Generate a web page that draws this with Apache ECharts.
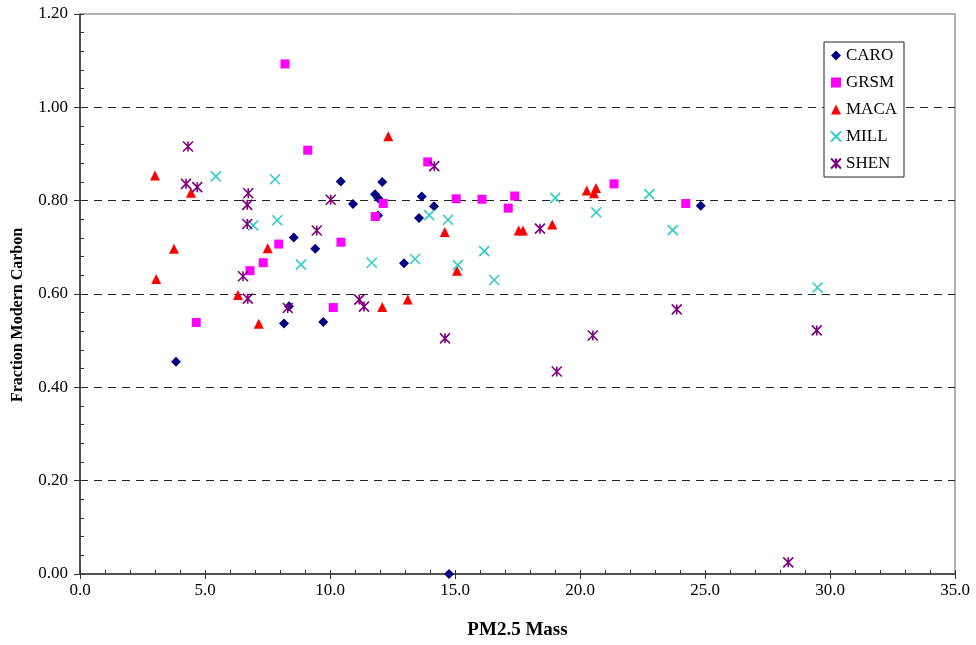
<!DOCTYPE html>
<html>
<head>
<meta charset="utf-8">
<title>Fraction Modern Carbon vs PM2.5 Mass</title>
<script src="https://cdn.jsdelivr.net/npm/echarts@6/dist/echarts.min.js"></script>
<style>
  html, body { margin: 0; padding: 0; background: #fff; }
  #chart { width: 976px; height: 645px; }
</style>
</head>
<body>
<div id="chart"></div>
<script>
// Site measurements: [PM2.5 mass, fraction modern carbon]
var CARO = [[3.84,0.455],[8.16,0.537],[8.36,0.574],[8.55,0.721],[9.41,0.697],[9.73,0.540],
  [10.43,0.841],[10.92,0.793],[11.80,0.814],[11.93,0.805],[11.92,0.768],[12.09,0.840],
  [12.96,0.666],[13.56,0.763],[13.67,0.809],[14.16,0.788],[14.76,0.000],[24.83,0.789]];
var GRSM = [[4.65,0.539],[6.80,0.650],[7.33,0.667],[7.95,0.707],[8.20,1.093],[9.11,0.908],
  [10.13,0.571],[10.44,0.711],[11.81,0.766],[12.13,0.794],[13.91,0.883],[15.05,0.804],
  [16.08,0.803],[17.13,0.784],[17.39,0.810],[21.36,0.836],[24.23,0.794]];
var MACA = [[3.00,0.854],[3.05,0.632],[3.76,0.697],[4.44,0.817],[6.32,0.598],[7.15,0.536],
  [7.51,0.698],[12.09,0.572],[12.33,0.938],[13.11,0.588],[14.59,0.733],[15.08,0.650],
  [17.55,0.736],[17.72,0.736],[18.89,0.749],[20.27,0.822],[20.56,0.816],[20.64,0.827]];
var MILL = [[5.43,0.852],[6.93,0.747],[7.80,0.846],[7.89,0.758],[8.84,0.663],[11.67,0.667],
  [13.40,0.675],[13.97,0.769],[14.72,0.759],[15.11,0.662],[16.17,0.692],[16.57,0.630],
  [19.01,0.806],[20.65,0.775],[22.77,0.814],[23.71,0.737],[29.50,0.614]];
var SHEN = [[4.24,0.836],[4.32,0.916],[4.69,0.829],[6.52,0.638],[6.69,0.750],[6.69,0.791],
  [6.71,0.590],[6.73,0.816],[8.31,0.570],[9.47,0.736],[10.03,0.802],[11.17,0.588],
  [11.36,0.573],[14.17,0.874],[14.60,0.505],[18.40,0.740],[19.07,0.434],[20.51,0.511],
  [23.87,0.567],[28.33,0.025],[29.47,0.522]];

var xRange = { min: 0, max: 35, step: 5, minorStep: 1 };
var yRange = { min: 0, max: 1.2, step: 0.2, minorStep: 0.04 };
var xTitle = 'PM2.5 Mass';
var yTitle = 'Fraction Modern Carbon';

var FONT = '"Liberation Serif", "Times New Roman", serif';
var AXIS_COLOR = '#333';

var crossPath = 'path://M0,0L10,10M10,0L0,10';
var starPath = 'path://M0,0L10,10M10,0L0,10M5,0L5,10';

function filled(name, data, symbol, size, color) {
  return {
    name: name, type: 'scatter', data: data,
    symbol: symbol, symbolSize: size,
    itemStyle: { color: color, opacity: 1 },
    xAxisIndex: 0, yAxisIndex: 0
  };
}
function stroked(name, data, symbol, size, color) {
  return {
    name: name, type: 'scatter', data: data,
    symbol: symbol, symbolSize: size,
    itemStyle: { color: 'rgba(0,0,0,0)', borderColor: color, borderWidth: 1.6, opacity: 1 },
    xAxisIndex: 0, yAxisIndex: 0
  };
}

var chart = echarts.init(document.getElementById('chart'), null, { renderer: 'canvas' });

chart.setOption({
  animation: false,
  backgroundColor: '#fff',
  textStyle: { fontFamily: FONT },
  grid: {
    left: 80, right: 21, top: 14, bottom: 70,
    show: true, borderColor: '#666', borderWidth: 1, backgroundColor: 'transparent'
  },
  // vertical axis title, placed by hand so it sits a little below the plot centre
  graphic: [{
    type: 'text',
    x: 18, y: 315,
    rotation: Math.PI / 2,
    style: {
      text: yTitle,
      fontFamily: FONT, fontSize: 16, fontWeight: 'bold', fill: '#000',
      align: 'center', verticalAlign: 'middle'
    }
  }],
  legend: {
    orient: 'vertical',
    left: 824, top: 42,
    padding: [5, 7, 5, 6],
    itemGap: 10,
    itemWidth: 10, itemHeight: 10,
    backgroundColor: '#fff',
    borderColor: '#222', borderWidth: 1,
    textStyle: { fontFamily: FONT, fontSize: 17, color: '#000' },
    data: ['CARO', 'GRSM', 'MACA', 'MILL', 'SHEN']
  },
  xAxis: [{
    type: 'value',
    min: xRange.min, max: xRange.max, interval: xRange.step,
    name: xTitle, nameLocation: 'middle', nameGap: 47,
    nameTextStyle: { fontFamily: FONT, fontSize: 19, fontWeight: 'bold', color: '#000' },
    axisLine: { show: true, onZero: false, lineStyle: { color: AXIS_COLOR, width: 1.5 } },
    axisTick: { show: true, inside: false, length: 5, lineStyle: { color: AXIS_COLOR, width: 1 } },
    axisLabel: { fontFamily: FONT, fontSize: 17, color: '#000', margin: 8,
      formatter: function (v) { return v.toFixed(1); } },
    splitLine: { show: false }
  }, {
    type: 'value',
    min: xRange.min, max: xRange.max, interval: xRange.minorStep,
    position: 'bottom',
    axisLine: { show: false },
    axisTick: { show: true, inside: true, length: 4, lineStyle: { color: AXIS_COLOR, width: 1 } },
    axisLabel: { show: false },
    splitLine: { show: false }
  }],
  yAxis: [{
    type: 'value',
    min: yRange.min, max: yRange.max, interval: yRange.step,
    axisLine: { show: true, onZero: false, lineStyle: { color: AXIS_COLOR, width: 1.5 } },
    axisTick: { show: true, inside: false, length: 6, lineStyle: { color: AXIS_COLOR, width: 1 } },
    axisLabel: { fontFamily: FONT, fontSize: 17, color: '#000', margin: 12,
      formatter: function (v) { return v.toFixed(2); } },
    splitLine: { show: true, showMinLine: false, showMaxLine: false,
      lineStyle: { color: '#222', width: 1, type: [8, 6] } }
  }, {
    type: 'value',
    min: yRange.min, max: yRange.max, interval: yRange.minorStep,
    position: 'left',
    axisLine: { show: false },
    axisTick: { show: true, inside: true, length: 4, lineStyle: { color: AXIS_COLOR, width: 1 } },
    axisLabel: { show: false },
    splitLine: { show: false }
  }],
  series: [
    filled('CARO', CARO, 'diamond', 10, '#000080'),
    filled('GRSM', GRSM, 'rect', 9, '#FF00FF'),
    filled('MACA', MACA, 'triangle', 10, '#FF0000'),
    stroked('MILL', MILL, crossPath, 10, '#33CCCC'),
    stroked('SHEN', SHEN, starPath, 10, '#800080')
  ]
});
</script>
</body>
</html>
